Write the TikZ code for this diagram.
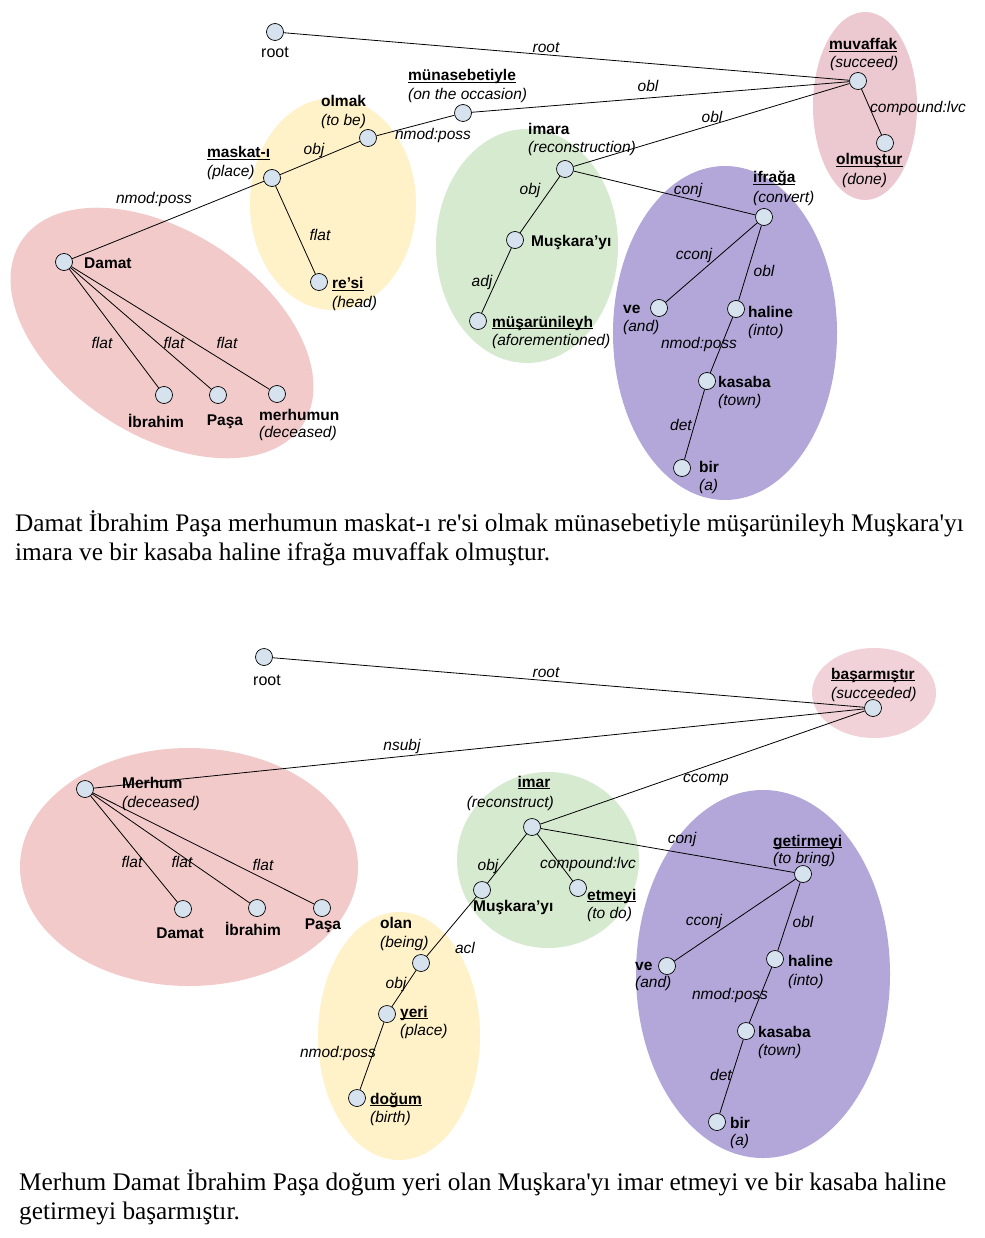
\documentclass[tikz,border=0pt]{standalone}
\usepackage{fontspec}
\setmainfont{Liberation Serif}
\setsansfont{Liberation Sans}
\newfontfamily\sentfont{Liberation Serif}[Ligatures=TeXOff]
\definecolor{tokfill}{HTML}{D6E2EE}
\definecolor{pinkA}{HTML}{F2CACA}
\definecolor{pinkB}{HTML}{ECC8D0}
\definecolor{pinkC}{HTML}{F0D2D8}
\definecolor{yellowA}{HTML}{FFF1C8}
\definecolor{greenA}{HTML}{D6EAD0}
\definecolor{purpleA}{HTML}{B3A7D9}
\newcommand{\ulw}[1]{\setbox0\hbox{#1}\rlap{\rule[-2.4pt]{\wd0}{1pt}}\box0}
\tikzset{
  tok/.style={circle, draw=black, line width=0.7pt, fill=tokfill, minimum size=17pt, inner sep=0pt},
  wd/.style={font=\sffamily\bfseries\fontsize{15.5}{18}\selectfont, inner sep=0pt, anchor=base west},
  wdc/.style={font=\sffamily\bfseries\fontsize{15.5}{18}\selectfont, inner sep=0pt, anchor=base},
  gl/.style={font=\sffamily\itshape\fontsize{15.5}{18}\selectfont, inner sep=0pt, anchor=base west},
  el/.style={font=\sffamily\itshape\fontsize{15.5}{18}\selectfont, inner sep=0pt, anchor=base},
  rt/.style={font=\sffamily\fontsize{16}{18}\selectfont, inner sep=0pt, anchor=base},
  dep/.style={line width=0.8pt, draw=black},
  sent/.style={font=\sentfont\fontsize{25.3}{29}\selectfont, inner sep=0pt, anchor=base west},
}
\begin{document}
\begin{tikzpicture}[x=1pt, y=-1pt]
\path[use as bounding box, fill=white] (0,0) rectangle (984,1238);

% ---------- top background groups ----------
\fill[pinkA, rotate around={-33:(162,333)}] (162,333) ellipse [x radius=168pt, y radius=102pt];
\fill[yellowA] (333,204) ellipse [x radius=83pt, y radius=106pt];
\fill[greenA] (527,246) ellipse [x radius=91pt, y radius=117pt];
\fill[purpleA] (725,333) ellipse [x radius=112pt, y radius=167pt];
\fill[pinkB] (865,106) ellipse [x radius=52pt, y radius=94pt];

% ---------- top tokens ----------
\node[tok] (root1) at (275,32) {};
\node[tok] (muv) at (858,81) {};
\node[tok] (olmus) at (885,143) {};
\node[tok] (munas) at (463,113) {};
\node[tok] (olmak) at (368,138) {};
\node[tok] (mask) at (272,178) {};
\node[tok] (resi) at (319,282) {};
\node[tok] (damat1) at (64,262) {};
\node[tok] (ibr1) at (164,395) {};
\node[tok] (pasa1) at (218,395) {};
\node[tok] (merh1) at (277,394) {};
\node[tok] (imara) at (565,169) {};
\node[tok] (musk1) at (515,240) {};
\node[tok] (musar) at (478,321) {};
\node[tok] (ifr) at (764,217) {};
\node[tok] (ve1) at (659,308) {};
\node[tok] (hal1) at (736,309) {};
\node[tok] (kas1) at (707,381) {};
\node[tok] (bir1) at (682,468) {};

% ---------- top dependencies ----------
\draw[dep] (root1) -- (muv);
\draw[dep] (muv) -- (munas);
\draw[dep] (muv) -- (imara);
\draw[dep] (muv) -- (olmus);
\draw[dep] (munas) -- (olmak);
\draw[dep] (olmak) -- (mask);
\draw[dep] (mask) -- (damat1);
\draw[dep] (mask) -- (resi);
\draw[dep] (damat1) -- (ibr1);
\draw[dep] (damat1) -- (pasa1);
\draw[dep] (damat1) -- (merh1);
\draw[dep] (imara) -- (musk1);
\draw[dep] (musk1) -- (musar);
\draw[dep] (imara) -- (ifr);
\draw[dep] (ifr) -- (ve1);
\draw[dep] (ifr) -- (hal1);
\draw[dep] (hal1) -- (kas1);
\draw[dep] (kas1) -- (bir1);

% ---------- top token labels ----------
\node[rt] (lroot1) at (275,58) {root};
\node[wd] (lmuv) at (829,50) {\ulw{muvaffak}};
\node[gl] (gmuv) at (830,68) {(succeed)};
\node[wd] (lolmus) at (836,165) {\ulw{olmuştur}};
\node[gl] (golmus) at (842,185) {(done)};
\node[wd] (lmunas) at (408,81) {\ulw{münasebetiyle}};
\node[gl] (gmunas) at (408,100) {(on the occasion)};
\node[wd] (lolmak) at (321,107) {olmak};
\node[gl] (golmak) at (321,126) {(to be)};
\node[wd] (lmask) at (207,158) {\ulw{maskat-ı}};
\node[gl] (gmask) at (207,177) {(place)};
\node[wd] (lresi) at (332,289) {\ulw{re’si}};
\node[gl] (gresi) at (332,308) {(head)};
\node[wd] (ldamat1) at (84,269) {Damat};
\node[wdc] (libr1) at (156,427) {İbrahim};
\node[wdc] (lpasa1) at (225,425) {Paşa};
\node[wd] (lmerh1) at (259,420) {merhumun};
\node[gl] (gmerh1) at (259,437) {(deceased)};
\node[wd] (limara) at (528,135) {imara};
\node[gl] (gimara) at (528,153) {(reconstruction)};
\node[wd] (lmusk1) at (531,247) {Muşkara’yı};
\node[wd] (lmusar) at (492,327) {\ulw{müşarünileyh}};
\node[gl] (gmusar) at (492,345) {(aforementioned)};
\node[wd] (lifr) at (753,183) {\ulw{ifrağa}};
\node[gl] (gifr) at (753,203) {(convert)};
\node[wd] (lve1) at (623,313) {ve};
\node[gl] (gve1) at (623,331) {(and)};
\node[wd] (lhal1) at (748,317) {haline};
\node[gl] (ghal1) at (748,335) {(into)};
\node[wd] (lkas1) at (718,387) {kasaba};
\node[gl] (gkas1) at (718,405) {(town)};
\node[wd] (lbir1) at (699,472) {bir};
\node[gl] (gbir1) at (699,490) {(a)};

% ---------- top edge labels ----------
\node[el] (e1) at (546,53) {root};
\node[el] (e2) at (648,92) {obl};
\node[el] (e3) at (712,123) {obl};
\node[el] (e4) at (918,113) {compound:lvc};
\node[el] (e5) at (433,140) {nmod:poss};
\node[el] (e6) at (314,155) {obj};
\node[el] (e7) at (154,204) {nmod:poss};
\node[el] (e8) at (320,241) {flat};
\node[el] (e9) at (102,348) {flat};
\node[el] (e10) at (174,348) {flat};
\node[el] (e11) at (227,348) {flat};
\node[el] (e12) at (530,195) {obj};
\node[el] (e13) at (482,287) {adj};
\node[el] (e14) at (688,195) {conj};
\node[el] (e15) at (694,260) {cconj};
\node[el] (e16) at (764,277) {obl};
\node[el] (e17) at (699,348) {nmod:poss};
\node[el] (e18) at (681,430) {det};

% ---------- top sentence ----------
\node[sent] (s1a) at (15,531) {Damat İbrahim Paşa merhumun maskat-ı re'si olmak münasebetiyle müşarünileyh Muşkara'yı};
\node[sent] (s1b) at (15,560) {imara ve bir kasaba haline ifrağa muvaffak olmuştur.};

% ---------- bottom background groups ----------
\fill[pinkC] (874,693) ellipse [x radius=62pt, y radius=45pt];
\fill[pinkA] (189,867) ellipse [x radius=169pt, y radius=119pt];
\fill[greenA] (548,860) ellipse [x radius=91pt, y radius=88pt];
\fill[yellowA] (399,1036) ellipse [x radius=81pt, y radius=124pt];
\fill[purpleA] (763,974) ellipse [x radius=127pt, y radius=184pt];

% ---------- bottom tokens ----------
\node[tok] (root2) at (264,657) {};
\node[tok] (basar) at (873,708) {};
\node[tok] (merh2) at (85,789) {};
\node[tok] (damat2) at (183,909) {};
\node[tok] (ibr2) at (257,908) {};
\node[tok] (pasa2) at (322,908) {};
\node[tok] (imar) at (532,827) {};
\node[tok] (musk2) at (482,890) {};
\node[tok] (etm) at (578,888) {};
\node[tok] (olan) at (421,963) {};
\node[tok] (yeri) at (387,1014) {};
\node[tok] (dogum) at (357,1098) {};
\node[tok] (getir) at (803,874) {};
\node[tok] (ve2) at (667,966) {};
\node[tok] (hal2) at (775,959) {};
\node[tok] (kas2) at (746,1031) {};
\node[tok] (bir2) at (717,1122) {};

% ---------- bottom dependencies ----------
\draw[dep] (root2) -- (basar);
\draw[dep] (basar) -- (merh2);
\draw[dep] (basar) -- (imar);
\draw[dep] (merh2) -- (damat2);
\draw[dep] (merh2) -- (ibr2);
\draw[dep] (merh2) -- (pasa2);
\draw[dep] (imar) -- (musk2);
\draw[dep] (imar) -- (etm);
\draw[dep] (imar) -- (getir);
\draw[dep] (musk2) -- (olan);
\draw[dep] (olan) -- (yeri);
\draw[dep] (yeri) -- (dogum);
\draw[dep] (getir) -- (ve2);
\draw[dep] (getir) -- (hal2);
\draw[dep] (hal2) -- (kas2);
\draw[dep] (kas2) -- (bir2);

% ---------- bottom token labels ----------
\node[rt] (lroot2) at (267,685) {root};
\node[wd] (lbasar) at (831,679) {\ulw{başarmıştır}};
\node[gl] (gbasar) at (831,698) {(succeeded)};
\node[wd] (lmerh2) at (122,788) {Merhum};
\node[gl] (gmerh2) at (122,807) {(deceased)};
\node[wdc] (ldamat2) at (180,938) {Damat};
\node[wdc] (libr2) at (253,935) {İbrahim};
\node[wdc] (lpasa2) at (323,929) {Paşa};
\node[wdc] (limar) at (534,787) {\ulw{imar}};
\node[gl, anchor=base east] (gimar) at (554,807) {(reconstruct)};
\node[wd] (lmusk2) at (473,911) {Muşkara’yı};
\node[wd] (letm) at (587,900) {\ulw{etmeyi}};
\node[gl] (getm) at (587,918) {(to do)};
\node[wd] (lolan) at (380,928) {olan};
\node[gl] (golan) at (380,947) {(being)};
\node[wd] (lyeri) at (400,1017) {\ulw{yeri}};
\node[gl] (gyeri) at (400,1035) {(place)};
\node[wd] (ldogum) at (370,1104) {\ulw{doğum}};
\node[gl] (gdogum) at (370,1122) {(birth)};
\node[wd] (lgetir) at (773,846) {\ulw{getirmeyi}};
\node[gl] (ggetir) at (773,863) {(to bring)};
\node[wd] (lve2) at (635,970) {ve};
\node[gl] (gve2) at (635,987) {(and)};
\node[wd] (lhal2) at (788,966) {haline};
\node[gl] (ghal2) at (788,985) {(into)};
\node[wd] (lkas2) at (758,1037) {kasaba};
\node[gl] (gkas2) at (758,1055) {(town)};
\node[wd] (lbir2) at (730,1128) {bir};
\node[gl] (gbir2) at (730,1145) {(a)};

% ---------- bottom edge labels ----------
\node[el] (f1) at (546,677) {root};
\node[el] (f2) at (402,750) {nsubj};
\node[el] (f3) at (706,782) {ccomp};
\node[el] (f4) at (132,867) {flat};
\node[el] (f5) at (182,867) {flat};
\node[el] (f6) at (263,870) {flat};
\node[el] (f7) at (682,843) {conj};
\node[el] (f8) at (488,870) {obj};
\node[el] (f9) at (588,868) {compound:lvc};
\node[el] (f10) at (465,953) {acl};
\node[el] (f11) at (396,988) {obj};
\node[el] (f12) at (338,1057) {nmod:poss};
\node[el] (f13) at (704,925) {cconj};
\node[el] (f14) at (803,927) {obl};
\node[el] (f15) at (730,999) {nmod:poss};
\node[el] (f16) at (721,1080) {det};

% ---------- bottom sentence ----------
\node[sent] (s2a) at (19,1190) {Merhum Damat İbrahim Paşa doğum yeri olan Muşkara'yı imar etmeyi ve bir kasaba haline};
\node[sent] (s2b) at (19,1219) {getirmeyi başarmıştır.};
\end{tikzpicture}
\end{document}
